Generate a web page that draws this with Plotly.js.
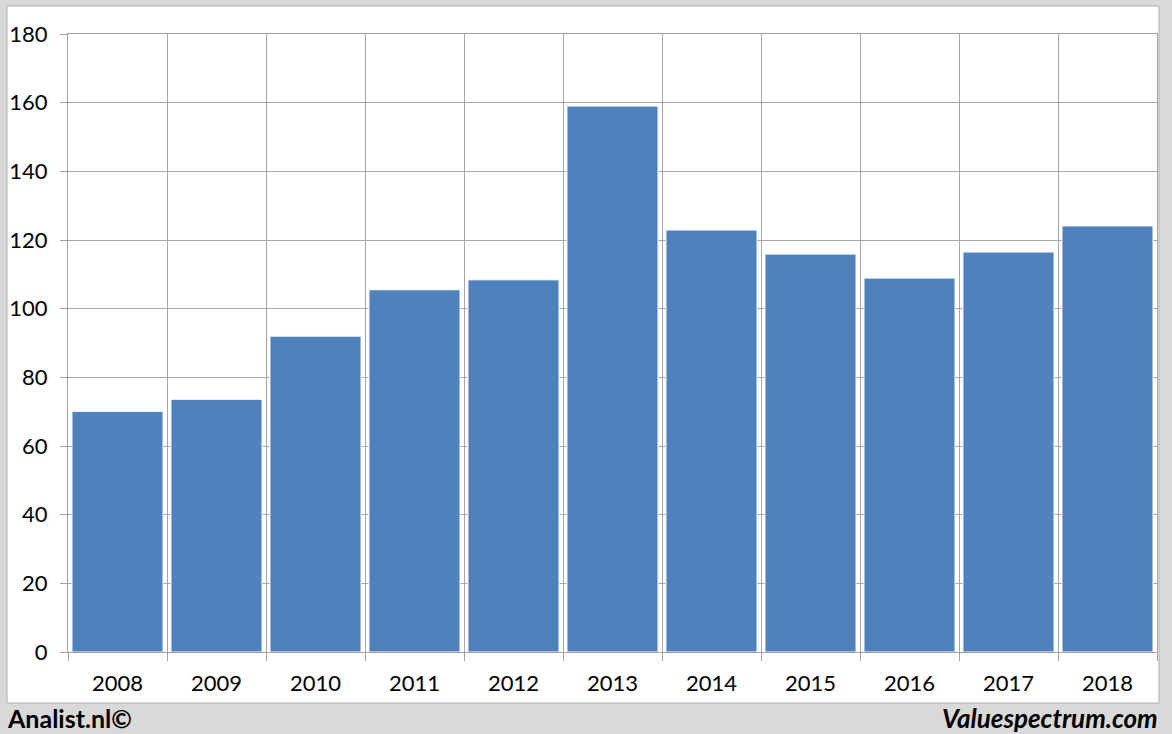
<!DOCTYPE html>
<html><head><meta charset="utf-8">
<script src="https://cdn.plot.ly/plotly-3.0.1.min.js"></script>
<style>html,body{margin:0;padding:0;background:#d9d9d9;}#chart{width:1172px;height:734px;}</style>
</head><body><div id="chart"></div>
<script>
const years = ["2008","2009","2010","2011","2012","2013","2014","2015","2016","2017","2018"];
const values = [70.1, 73.6, 92.0, 105.5, 108.4, 159.0, 122.9, 115.9, 108.9, 116.5, 124.1];
const yTicks = [0,20,40,60,80,100,120,140,160,180];
const leftNote = "Analist.nl©";
const rightNote = "Valuespectrum.com";

const trace = {
  type: "bar", x: years, y: values,
  marker: {color: "#4f81bd", line: {color: "#ffffff", width: 1}},
  hoverinfo: "skip"
};
const fontFam = "Lato, 'Open Sans', sans-serif";
const layout = {
  width: 1172, height: 734,
  margin: {l: 68, r: 15, t: 34, b: 82},
  paper_bgcolor: "#d9d9d9", plot_bgcolor: "#ffffff",
  bargap: 0.08,
  showlegend: false,
  font: {family: fontFam, size: 22, color: "#000"},
  xaxis: {
    type: "category", tickson: "boundaries", ticks: "outside", ticklen: 8,
    tickcolor: "#a0a0a0", showgrid: true, gridcolor: "#a6a6a6", gridwidth: 1,
    showline: true, linecolor: "#a0a0a0", linewidth: 1, mirror: true,
    tickfont: {family: fontFam, size: 22}, ticklabelstandoff: 12,
    fixedrange: true
  },
  yaxis: {
    range: [0, 180], tickvals: yTicks, ticks: "outside", ticklen: 7,
    tickcolor: "#a0a0a0", showgrid: true, gridcolor: "#a6a6a6", gridwidth: 1,
    showline: true, linecolor: "#a0a0a0", linewidth: 1, mirror: true, zeroline: false,
    tickfont: {family: fontFam, size: 22}, ticklabelstandoff: 8,
    fixedrange: true
  },
  shapes: [{
    type: "rect", xref: "paper", yref: "paper", layer: "below",
    x0: (7-68)/1089, x1: (1159-68)/1089, y0: (652-703)/618, y1: (652-6)/618,
    fillcolor: "#ffffff", line: {color: "#b0b0b0", width: 1}
  }],
  annotations: [
    {text: leftNote, xref: "paper", yref: "paper", x: (5-68)/1089, y: (652-718)/618,
     xanchor: "left", yanchor: "middle", showarrow: false,
     font: {family: fontFam, size: 25, color: "#000", weight: "bold"}},
    {text: "<i>" + rightNote + "</i>", xref: "paper", yref: "paper", x: (1160-68)/1089, y: (652-718)/618,
     xanchor: "right", yanchor: "middle", showarrow: false,
     font: {family: fontFam, size: 26, color: "#000", weight: "bold"}}
  ]
};
Plotly.newPlot("chart", [trace], layout, {displayModeBar: false, staticPlot: true});
</script></body></html>
